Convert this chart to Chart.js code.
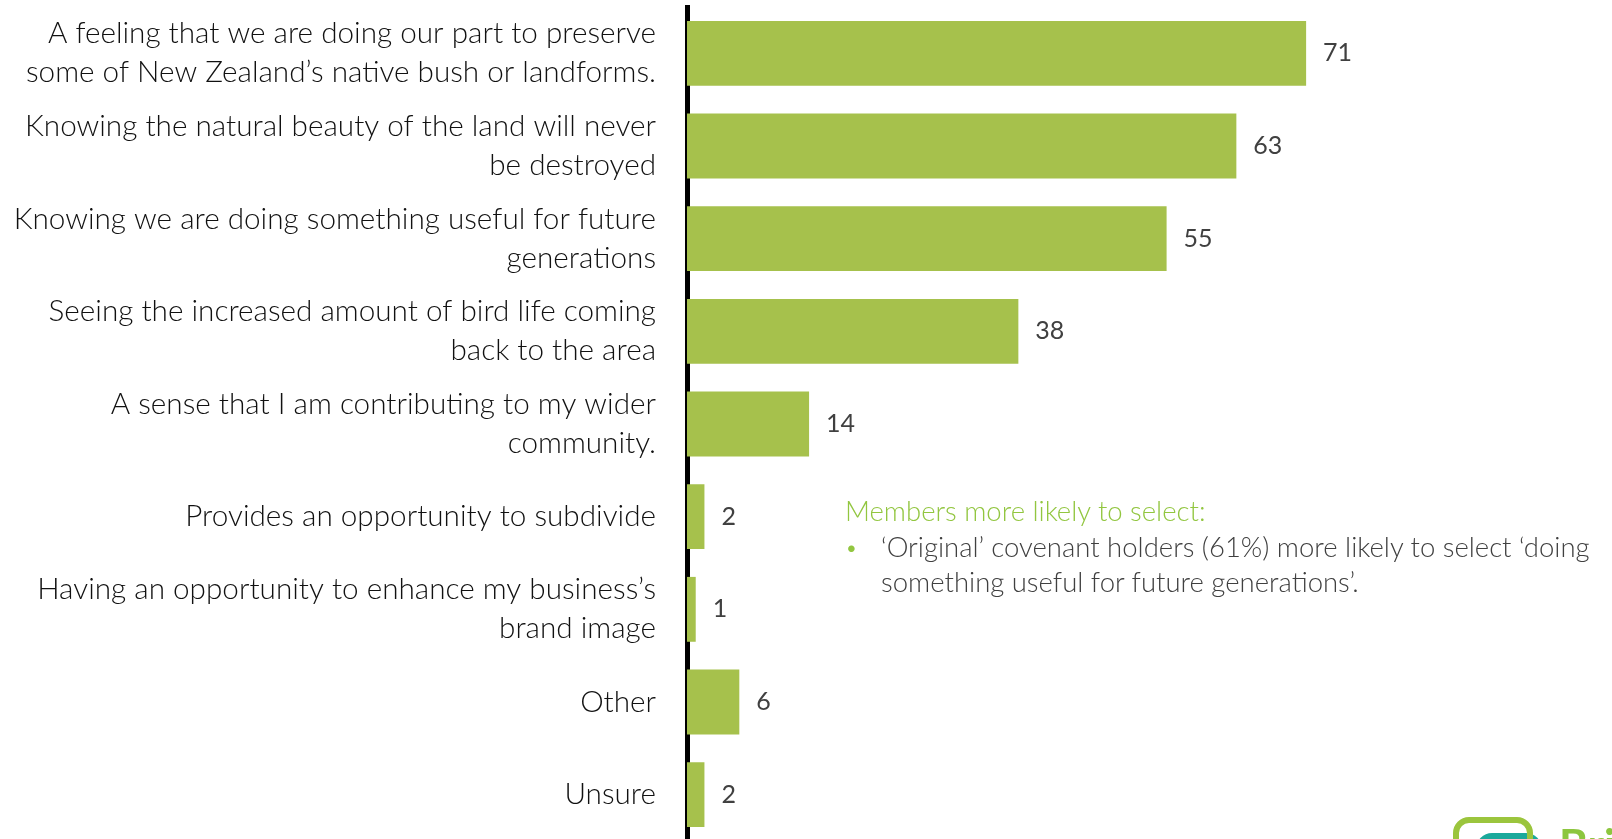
<!DOCTYPE html>
<html>
<head>
<meta charset="utf-8">
<script src="https://cdn.jsdelivr.net/npm/chart.js@4.4.1/dist/chart.umd.min.js"></script>
<style>
    html, body { margin: 0; padding: 0; background: #fff; overflow: hidden; }
    #wrap { position: relative; width: 1612px; height: 839px; overflow: hidden; }
    #wrap canvas { position: absolute; left: 0; top: 0; }
    .note { position: absolute; left: 845px; top: 493px; width: 767px; font-family: Lato, sans-serif; font-weight: 300; font-size: 27.5px; line-height: 35.5px; color: #404040; }
    .note .head { color: #92C640; }
    .note ul { margin: 0; padding: 0; list-style: none; }
    .note li { position: relative; padding-left: 36px; }
    .note li:before { content: '\2022'; position: absolute; left: 0; color: #92C640; font-size: 22px; }
    .logo-ring { position: absolute; left: 1453px; top: 817px; width: 68px; height: 50px; border: 6px solid #9BC53D; border-radius: 16px; }
    .logo-fill { position: absolute; left: 1476px; top: 833px; width: 66px; height: 40px; background: #1BA99B; border-radius: 16px; }
    .logo-text { position: absolute; left: 1559px; top: 818px; font-family: Lato, sans-serif; font-weight: 700; font-size: 44px; color: #8DC63F; }
</style>
</head>
<body>
<div id="wrap">
    <canvas id="reasonschart" width="1612" height="852"></canvas>
    <div class="note">
        <div class="head">Members more likely to select:</div>
        <ul>
            <li>‘Original’ covenant holders (61%) more likely to select ‘doing something useful for future generations’.</li>
        </ul>
    </div>
    <div class="logo-fill"></div>
    <div class="logo-ring"></div>
    <div class="logo-text">Bri</div>
</div>

<script>
// reasons for holding a covenant, % of members
var reasons = [
    ['A feeling that we are doing our part to preserve', 'some of New Zealand’s native bush or landforms.'],
    ['Knowing the natural beauty of the land will never', 'be destroyed'],
    ['Knowing we are doing something useful for future', 'generations'],
    ['Seeing the increased amount of bird life coming', 'back to the area'],
    ['A sense that I am contributing to my wider', 'community.'],
    'Provides an opportunity to subdivide',
    ['Having an opportunity to enhance my business’s', 'brand image'],
    'Other',
    'Unsure'
];
var percents = [71, 63, 55, 38, 14, 2, 1, 6, 2];

// write the value just past the end of each bar
var barValues = {
    id: 'barValues',
    afterDatasetsDraw: function (chart) {
        var ctx = chart.ctx;
        var meta = chart.getDatasetMeta(0);
        ctx.save();
        ctx.font = '400 25px Lato';
        ctx.fillStyle = '#404040';
        ctx.textAlign = 'left';
        ctx.textBaseline = 'middle';
        meta.data.forEach(function (bar, i) {
            ctx.fillText(String(percents[i]), bar.x + 17, bar.y);
        });
        ctx.restore();
    }
};

var ctx = document.getElementById('reasonschart').getContext('2d');
var reasonschart = new Chart(ctx, {
    type: 'bar',
    data: {
        labels: reasons,
        datasets: [{
            data: percents,
            backgroundColor: '#A6C14C',
            borderWidth: 0,
            barPercentage: 0.7,
            categoryPercentage: 1.0
        }]
    },
    options: {
        indexAxis: 'y',
        responsive: false,
        animation: false,
        layout: {
            padding: { top: 7, right: 53, bottom: 11, left: 0 }
        },
        plugins: {
            legend: { display: false },
            tooltip: { enabled: false }
        },
        scales: {
            x: {
                display: false,
                min: 0,
                max: 100
            },
            y: {
                z: 1,
                afterFit: function (scale) {
                    // labels may spill past the plot, keep it full height
                    scale.width = 687;
                    scale.paddingTop = 0;
                    scale.paddingBottom = 0;
                },
                grid: { display: true, drawOnChartArea: false, drawTicks: false, color: 'transparent' },
                border: { display: true, color: '#000', width: 5 },
                ticks: {
                    padding: 31,
                    color: '#111',
                    font: { family: 'Lato', weight: 300, size: 29.7, lineHeight: 1.31 }
                }
            }
        }
    },
    plugins: [barValues]
});
</script>
</body>
</html>
